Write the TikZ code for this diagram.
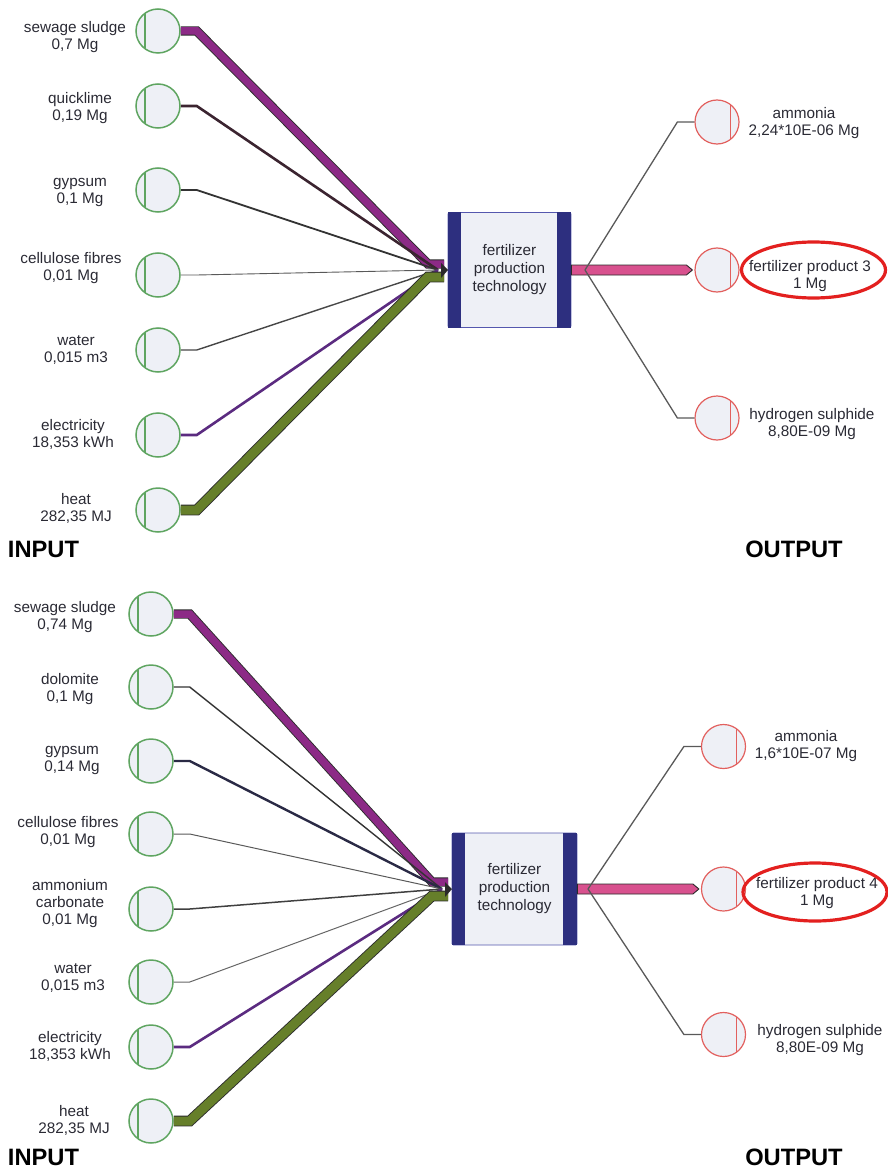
\documentclass[tikz,border=0pt]{standalone}
\usepackage{fontspec}
\setmainfont{Liberation Sans}
\usetikzlibrary{calc,shapes.geometric}
\definecolor{txt}{HTML}{2A2A34}
\definecolor{ingreen}{HTML}{5FA561}
\definecolor{outred}{HTML}{E2605E}
\definecolor{cfill}{HTML}{EEF0F6}
\definecolor{navy}{HTML}{2D2F7F}
\definecolor{boxedge}{HTML}{5457AE}
\definecolor{purp}{HTML}{8C2A86}
\definecolor{olive}{HTML}{667F2A}
\definecolor{pinkbar}{HTML}{D8518E}
\definecolor{elec}{HTML}{5B2B80}
\definecolor{ellred}{HTML}{E3201F}
\definecolor{bandedge}{HTML}{2A2A2A}
\newcommand\InNode[6]{%
  \node[incirc] (#1) at (#2,#3) {};
  \draw[ingreen,line width=1.2pt] ($(#1.center)+(-13,-18)$) -- ($(#1.center)+(-13,18)$);
  \node[lbl] (#1l) at (#4,#5) {#6};
}
\newcommand\OutNode[6]{%
  \node[outcirc] (#1) at (#2,#3) {};
  \draw[outred,line width=1pt] ($(#1.center)+(13,-18)$) -- ($(#1.center)+(13,18)$);
  \node[lbl] (#1l) at (#4,#5) {#6};
}
\begin{document}
\begin{tikzpicture}[x=1pt,y=-1pt,
  incirc/.style={circle,draw=ingreen,fill=cfill,line width=1.5pt,minimum size=44pt,inner sep=0pt},
  outcirc/.style={circle,draw=outred,fill=cfill,line width=1.2pt,minimum size=44pt,inner sep=0pt},
  lbl/.style={font=\fontsize{15.3}{17}\selectfont,text=txt,align=center,inner sep=0pt},
  techbox/.style={rectangle,draw=boxedge,fill=cfill,line width=0.8pt,rounded corners=1.5pt,
    font=\fontsize{15.3}{18}\selectfont,text=txt,align=center,inner sep=0pt},
  headline/.style={font=\fontsize{23.7}{26}\selectfont\bfseries,text=black,inner sep=0pt},
  purpband/.style={draw=bandedge,line width=0.9pt,double=purp,double distance=7.5pt},
  greenband/.style={draw=bandedge,line width=0.9pt,double=olive,double distance=9pt},
  flow/.style={line width=#1},
  outflow/.style={draw=black!65,line width=1.3pt},
  product/.style={draw=ellred,line width=3.2pt},
  pinkarrow/.style={fill=pinkbar,draw=bandedge,line width=0.9pt,line join=round}
]
\useasboundingbox (0,0) rectangle (887,1169);

%%%%%%%%%%%%%%%%%%%%%%%%%%%% TOP PANEL
\InNode{a1}{158}{31}{75}{37}{sewage sludge\\0,7 Mg}
\InNode{a2}{158}{106}{80}{108}{quicklime\\0,19 Mg}
\InNode{a3}{158}{190}{80}{192}{gypsum\\0,1 Mg}
\InNode{a4}{158}{275}{71}{268}{cellulose fibres\\0,01 Mg}
\InNode{a5}{158}{350}{76}{350}{water\\0,015 m3}
\InNode{a6}{158}{435}{73}{434}{electricity\\18,353 kWh}
\InNode{a7}{158}{510}{76}{508}{heat\\282,35 MJ}

\node[techbox,minimum width=123pt,minimum height=115pt] (t1) at (509.5,270) {fertilizer\\production\\technology};
\fill[navy] (t1.north west) rectangle ($(t1.south west)+(13,0)$);
\fill[navy] ($(t1.north east)+(-14,0)$) rectangle (t1.south east);

\OutNode{o1}{717}{122}{804}{123.5}{ammonia\\2,24*10E-06 Mg}
\OutNode{o2}{717}{270}{810}{276}{fertilizer product 3\\1 Mg}
\OutNode{o3}{717}{418}{812}{424.5}{hydrogen sulphide\\8,80E-09 Mg}
\node[product,ellipse,minimum width=144pt,minimum height=56pt,inner sep=0pt] (e1) at (813.5,270) {};

\coordinate (c1) at (438,270);
\coordinate (j1) at (585,270);

\draw[purpband] (a1.east) -- ++(16,0) -- (428,264) -- (444,264);
\draw[flow=2.6pt,draw={rgb,255:red,59;green,36;blue,48}] (a2.east) -- ++(16,0) -- (c1);
\draw[flow=1.8pt,draw=black!80] (a3.east) -- ++(16,0) -- (c1);
\draw[flow=0.9pt,draw=black!65] (a4.east) -- ++(16,0) -- (c1);
\draw[flow=1.4pt,draw=black!72] (a5.east) -- ++(16,0) -- (c1);
\draw[flow=2.6pt,draw=elec] (a6.east) -- ++(16,0) -- (c1);
\draw[greenband] (a7.east) -- ++(16,0) -- (428,277) -- (444,277);
\fill[bandedge] (441,263) -- (448,270) -- (441,278) -- cycle;

\draw[pinkarrow] ($(t1.east)+(0,-5)$) -- ($(o2.west)+(-8,-5)$) -- ($(o2.west)+(-2,0)$)
  -- ($(o2.west)+(-8,5)$) -- ($(t1.east)+(0,5)$) -- cycle;
\draw[outflow] (o1.west) -- ++(-17,0) -- (j1);
\draw[outflow] (o3.west) -- ++(-17,0) -- (j1);

\node[headline] (in1) at (43.5,549) {INPUT};
\node[headline] (out1) at (794,549) {OUTPUT};

%%%%%%%%%%%%%%%%%%%%%%%%%%%% BOTTOM PANEL
\InNode{b1}{151}{614}{65}{617.5}{sewage sludge\\0,74 Mg}
\InNode{b2}{151}{687}{70}{689}{dolomite\\0,1 Mg}
\InNode{b3}{151}{761}{72}{760}{gypsum\\0,14 Mg}
\InNode{b4}{151}{834}{68}{832}{cellulose fibres\\0,01 Mg}
\InNode{b5}{151}{909}{70}{904}{ammonium\\carbonate\\0,01 Mg}
\InNode{b6}{151}{982}{73}{978.5}{water\\0,015 m3}
\InNode{b7}{151}{1047}{70}{1046}{electricity\\18,353 kWh}
\InNode{b8}{151}{1121}{74}{1120}{heat\\282,35 MJ}

\node[techbox,minimum width=125pt,minimum height=112pt] (t2) at (514.5,889) {fertilizer\\production\\technology};
\fill[navy] (t2.north west) rectangle ($(t2.south west)+(13,0)$);
\fill[navy] ($(t2.north east)+(-14,0)$) rectangle (t2.south east);

\OutNode{p1}{723.5}{746.5}{806}{746.5}{ammonia\\1,6*10E-07 Mg}
\OutNode{p2}{723.5}{889}{817}{893.5}{fertilizer product 4\\1 Mg}
\OutNode{p3}{723.5}{1034.5}{820}{1040}{hydrogen sulphide\\8,80E-09 Mg}
\node[product,ellipse,minimum width=144pt,minimum height=58pt,inner sep=0pt] (e2) at (815,892) {};

\coordinate (c2) at (442,889);
\coordinate (j2) at (588,889);

\draw[purpband] (b1.east) -- ++(16,0) -- (432,882) -- (448,882);
\draw[flow=1.4pt,draw=black!80] (b2.east) -- ++(16,0) -- (c2);
\draw[flow=2.4pt,draw={rgb,255:red,42;green,42;blue,69}] (b3.east) -- ++(16,0) -- (c2);
\draw[flow=1pt,draw=black!65] (b4.east) -- ++(16,0) -- (c2);
\draw[flow=1.5pt,draw=black!75] (b5.east) -- ++(16,0) -- (c2);
\draw[flow=1pt,draw=black!60] (b6.east) -- ++(16,0) -- (c2);
\draw[flow=2.6pt,draw=elec] (b7.east) -- ++(16,0) -- (c2);
\draw[greenband] (b8.east) -- ++(16,0) -- (432,896) -- (448,896);
\fill[bandedge] (445,882) -- (452,889) -- (445,897) -- cycle;

\draw[pinkarrow] ($(t2.east)+(0,-5)$) -- ($(p2.west)+(-8,-5)$) -- ($(p2.west)+(-2,0)$)
  -- ($(p2.west)+(-8,5)$) -- ($(t2.east)+(0,5)$) -- cycle;
\draw[outflow] (p1.west) -- ++(-17,0) -- (j2);
\draw[outflow] (p3.west) -- ++(-17,0) -- (j2);

\node[headline] (in2) at (43.5,1157) {INPUT};
\node[headline] (out2) at (794,1157) {OUTPUT};
\end{tikzpicture}
\end{document}
